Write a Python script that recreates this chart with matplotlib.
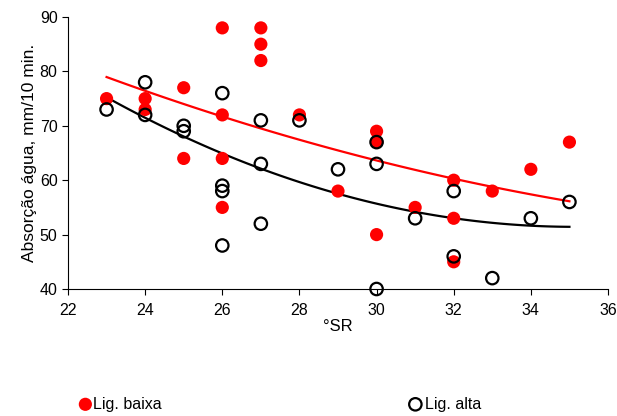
import matplotlib

matplotlib.use("Agg")
import matplotlib.pyplot as plt
import numpy as np

plt.rcParams["font.family"] = ["Liberation Sans", "DejaVu Sans"]

# Lig. baixa (filled red)
baixa_x = [23, 24, 24, 25, 25, 26, 26, 26, 26, 27, 27, 27, 28, 29, 30, 30, 30, 31, 32, 32, 32, 33, 34, 35]
baixa_y = [75, 75, 73, 77, 64, 88, 72, 64, 55, 88, 85, 82, 72, 58, 69, 67, 50, 55, 60, 53, 45, 58, 62, 67]

# Lig. alta (open black)
alta_x = [23, 24, 24, 25, 25, 26, 26, 26, 26, 27, 27, 27, 28, 29, 30, 30, 30, 31, 32, 32, 33, 34, 35]
alta_y = [73, 78, 72, 70, 69, 76, 59, 58, 48, 71, 63, 52, 71, 62, 67, 63, 40, 53, 58, 46, 42, 53, 56]

x_ticks = [22, 24, 26, 28, 30, 32, 34, 36]
y_ticks = [40, 50, 60, 70, 80, 90]

fig = plt.figure(figsize=(6.17, 4.16), dpi=100)
ax = fig.add_axes([68 / 617, 1 - 289 / 416, 540 / 617, 272 / 416])

# second order trendlines, as in the spreadsheet original
xs = np.linspace(23, 35, 100)
red_fit = np.polyfit(baixa_x, baixa_y, 2)
black_fit = np.polyfit(alta_x, alta_y, 2)
ax.plot(xs, np.polyval(red_fit, xs), color="#ff0000", linewidth=1.6, zorder=2)
ax.plot(xs, np.polyval(black_fit, xs), color="black", linewidth=1.6, zorder=2)

ax.scatter(baixa_x, baixa_y, s=90, color="#ff0000", edgecolors="none", zorder=3, label="Lig. baixa", clip_on=False)
ax.scatter(alta_x, alta_y, s=80, facecolors="none", edgecolors="black", linewidths=1.6, zorder=4,
           label="Lig. alta", clip_on=False)

ax.set_xlim(22, 36)
ax.set_ylim(40, 90)
ax.set_xticks(x_ticks)
ax.set_yticks(y_ticks)
for side in ["top", "right"]:
    ax.spines[side].set_visible(False)
ax.tick_params(direction="out", length=4, labelsize=11.5)
ax.tick_params(axis="x", pad=6)
ax.set_xlabel("°SR", fontsize=12, labelpad=1)
ax.set_ylabel("Absorção água, mm/10 min.", fontsize=12.5, labelpad=2)

handles, labels = ax.get_legend_handles_labels()
fig.legend(handles[:1], labels[:1], loc="center left", bbox_to_anchor=(63 / 617, 1 - 404 / 416),
           frameon=False, fontsize=11.5, handletextpad=0.0, handlelength=1, markerscale=1.0)
fig.legend(handles[1:], labels[1:], loc="center left", bbox_to_anchor=(393 / 617, 1 - 404 / 416),
           frameon=False, fontsize=11.5, handletextpad=0.1, handlelength=1, markerscale=1.0)

fig.savefig("out.png", dpi=100)
